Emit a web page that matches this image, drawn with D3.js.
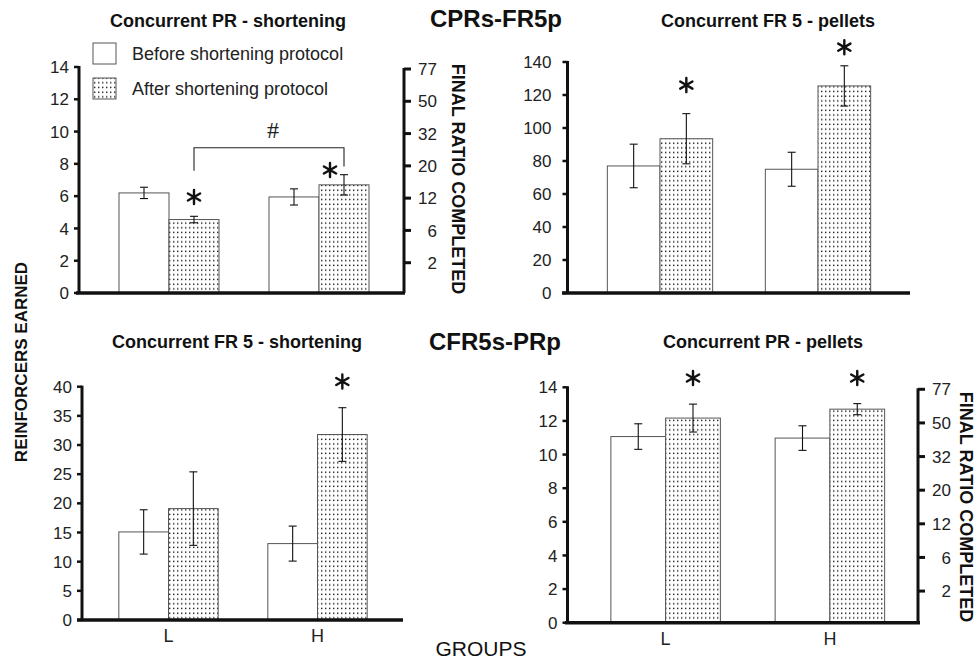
<!DOCTYPE html>
<html lang="en">
<head>
  <meta charset="UTF-8" />
  <title>CPRs-FR5p / CFR5s-PRp</title>
  <script src="https://d3js.org/d3.v7.min.js"></script>
  <style>
    body { margin: 0; background: #fff; }
    svg { display: block; font-family: "Liberation Sans", Arial, sans-serif; }
    .tick-label { font-size: 17px; fill: #222; }
    .panel-title { font-size: 18px; font-weight: bold; fill: #111; }
    .big-title { font-size: 24px; font-weight: bold; fill: #111; }
  </style>
</head>
<body>
  <svg width="978" height="659"></svg>
  <script>
    // groups and series
    const groups = ["L", "H"];
    const series = ["Before shortening protocol", "After shortening protocol"];

    // means / SEM, order: L before, L after, H before, H after
    const prShortMean = [6.2, 4.55, 5.95, 6.7];
    const prShortErr = [0.35, 0.2, 0.5, 0.63];
    const fr5PelletMean = [77, 93.5, 75, 125.5];
    const fr5PelletErr = [13.2, 15.2, 10.3, 12.2];
    const fr5ShortMean = [15.1, 19.1, 13.1, 31.8];
    const fr5ShortErr = [3.8, 6.3, 3.0, 4.6];
    const prPelletMean = [11.07, 12.17, 10.98, 12.7];
    const prPelletErr = [0.76, 0.83, 0.73, 0.33];

    // axis ticks
    const prTicks = [0, 2, 4, 6, 8, 10, 12, 14];
    const fr5PelletTicks = [0, 20, 40, 60, 80, 100, 120, 140];
    const fr5ShortTicks = [0, 5, 10, 15, 20, 25, 30, 35, 40];
    const ratioAt = [14, 12, 10, 8, 6, 4, 2];
    const ratioLabels = ["77", "50", "32", "20", "12", "6", "2"];

    // significance stars: [group, value where star sits]
    const prShortStars = [["L", 5.95], ["H", 7.62]];
    const fr5PelletStars = [["L", 126], ["H", 149]];
    const fr5ShortStars = [["H", 40.9]];
    const prPelletStars = [["L", 14.55], ["H", 14.55]];

    const svg = d3.select("svg");

    const pat = svg.append("defs").append("pattern")
      .attr("id", "dots")
      .attr("patternUnits", "userSpaceOnUse")
      .attr("width", 4).attr("height", 4.7);
    pat.append("rect").attr("width", 4).attr("height", 4.7).attr("fill", "#fff");
    pat.append("rect").attr("x", 1).attr("y", 1.5).attr("width", 1.4).attr("height", 1.4).attr("fill", "#1a1a1a");

    const panels = [
      { mean: prShortMean, err: prShortErr, ticks: prTicks, max: 14, stars: prShortStars,
        x0: 79, x1: 404, xs: 76, xe: 405, y0: 293, y1: 67, g0: 94, g1: 394, gap: 10, right: true,
        title: "Concurrent PR - shortening", tx: 228, ty: 27, rlx: 458, rly: 179 },
      { mean: fr5PelletMean, err: fr5PelletErr, ticks: fr5PelletTicks, max: 140, stars: fr5PelletStars,
        x0: 567.5, x1: 910, xs: 562, xe: 910, y0: 293, y1: 62, g0: 581, g1: 897, gap: 16, right: false,
        title: "Concurrent FR 5 - pellets", tx: 768, ty: 27 },
      { mean: fr5ShortMean, err: fr5ShortErr, ticks: fr5ShortTicks, max: 40, stars: fr5ShortStars,
        x0: 82, x1: 403, xs: 77, xe: 403, y0: 620, y1: 386.7, g0: 94, g1: 392, gap: 10, right: false,
        title: "Concurrent FR 5 - shortening", tx: 237, ty: 348, xlabels: true },
      { mean: prPelletMean, err: prPelletErr, ticks: prTicks, max: 14, stars: prPelletStars,
        x0: 567.5, x1: 918, xs: 565, xe: 920, y0: 622.7, y1: 387.3, g0: 583.5, g1: 912, gap: 10, right: true,
        title: "Concurrent PR - pellets", tx: 763, ty: 348, xlabels: true, rlx: 966.5, rly: 507 }
    ];

    const star = d3.symbol().type(d3.symbolAsterisk).size(140);

    panels.forEach((p, pi) => {
      const g = svg.append("g");
      const y = d3.scaleLinear().domain([0, p.max]).range([p.y0, p.y1]);
      const x = d3.scalePoint().domain(groups).range([p.g0, p.g1]).padding(0.5);
      const bw = x.step() / 3;
      const sub = d3.scaleBand().domain(series).range([-bw, bw]);

      const rows = [];
      groups.forEach((grp, gi) => series.forEach((s, si) => {
        rows.push({ grp, s, si, v: p.mean[gi * 2 + si], e: p.err[gi * 2 + si] });
      }));

      // bars
      g.selectAll("rect.bar").data(rows).join("rect")
        .attr("class", "bar")
        .attr("x", d => x(d.grp) + sub(d.s))
        .attr("y", d => y(d.v))
        .attr("width", sub.bandwidth())
        .attr("height", d => y(0) - y(d.v))
        .attr("fill", d => d.si === 0 ? "#fff" : "url(#dots)")
        .attr("stroke", "#555")
        .attr("stroke-width", 1);

      // error bars
      const eb = g.selectAll("g.err").data(rows).join("g").attr("class", "err")
        .attr("stroke", "#111").attr("stroke-width", 1.1);
      const cx = d => x(d.grp) + sub(d.s) + sub.bandwidth() / 2;
      eb.append("line").attr("x1", cx).attr("x2", cx)
        .attr("y1", d => y(d.v + d.e)).attr("y2", d => y(d.v - d.e));
      [1, -1].forEach(sgn => {
        eb.append("line").attr("x1", d => cx(d) - 4).attr("x2", d => cx(d) + 4)
          .attr("y1", d => y(d.v + sgn * d.e)).attr("y2", d => y(d.v + sgn * d.e));
      });

      // left axis
      g.append("line").attr("x1", p.x0).attr("x2", p.x0).attr("y1", y(p.max) - 1).attr("y2", y(0))
        .attr("stroke", "#111").attr("stroke-width", 3);
      g.selectAll("line.lt").data(p.ticks).join("line").attr("class", "lt")
        .attr("x1", p.x0 - 5).attr("x2", p.x0).attr("y1", d => y(d)).attr("y2", d => y(d))
        .attr("stroke", "#111").attr("stroke-width", 2.5);
      g.selectAll("text.ll").data(p.ticks).join("text").attr("class", "ll tick-label")
        .attr("x", p.x0 - p.gap).attr("y", d => y(d)).attr("dy", "0.36em")
        .attr("text-anchor", "end").text(d => d);

      // x axis
      g.append("line").attr("x1", p.xs).attr("x2", p.xe).attr("y1", y(0)).attr("y2", y(0))
        .attr("stroke", "#111").attr("stroke-width", 3.5);

      if (p.xlabels) {
        g.selectAll("text.xl").data(groups).join("text").attr("class", "xl tick-label")
          .attr("x", d => x(d)).attr("y", y(0) + 22).attr("text-anchor", "middle")
          .style("font-size", "18px").text(d => d);
      }

      // right axis (final ratio)
      if (p.right) {
        g.append("line").attr("x1", p.x1).attr("x2", p.x1).attr("y1", y(14) + 1).attr("y2", y(0))
          .attr("stroke", "#111").attr("stroke-width", 3);
        g.selectAll("line.rt").data(ratioAt).join("line").attr("class", "rt")
          .attr("x1", p.x1).attr("x2", p.x1 + 7).attr("y1", d => y(d) + 2).attr("y2", d => y(d) + 2)
          .attr("stroke", "#111").attr("stroke-width", 3);
        g.selectAll("text.rl").data(ratioAt).join("text").attr("class", "rl tick-label")
          .attr("x", p.x1 + 33).attr("y", d => y(d) + 2).attr("dy", "0.36em")
          .attr("text-anchor", "end").text((d, i) => ratioLabels[i]);
        g.append("text")
          .attr("transform", `translate(${p.rlx},${p.rly}) rotate(90)`)
          .attr("text-anchor", "middle").attr("dy", "0.35em")
          .style("font-size", "18px").style("font-weight", "bold").attr("fill", "#111")
          .text("FINAL RATIO COMPLETED");
      }

      // stars
      g.selectAll("path.star").data(p.stars).join("path").attr("class", "star")
        .attr("d", star)
        .attr("transform", (d, i) => {
          const dx = (pi === 0 && d[0] === "H") ? -14 : 0;
          return `translate(${x(d[0]) + bw / 2 + dx},${y(d[1])})`;
        })
        .attr("fill", "none").attr("stroke", "#111").attr("stroke-width", 2.4)
        .attr("stroke-linecap", "round");

      g.append("text").attr("class", "panel-title")
        .attr("x", p.tx).attr("y", p.ty).attr("text-anchor", "middle").text(p.title);

      p.y = y; p.x = x; p.bw = bw;
    });

    // bracket between L-after and H-after on the PR shortening panel
    const bracket = { y: 9.0, leftEnd: 7.58, rightEnd: 7.83, labelAt: 10.1 };
    const p0 = panels[0];
    const bl = p0.x("L") + p0.bw / 2, br = p0.x("H") + p0.bw / 2;
    svg.append("path")
      .attr("d", `M${bl},${p0.y(bracket.leftEnd)}V${p0.y(bracket.y)}H${br}V${p0.y(bracket.rightEnd)}`)
      .attr("fill", "none").attr("stroke", "#222").attr("stroke-width", 1.1);
    svg.append("text")
      .attr("x", (bl + br) / 2 + 4).attr("y", p0.y(bracket.labelAt)).attr("dy", "0.35em")
      .attr("text-anchor", "middle")
      .style("font-family", "'Liberation Serif', 'Times New Roman', serif").style("font-size", "24px")
      .attr("fill", "#222").text("#");

    // legend
    const leg = svg.append("g").attr("transform", "translate(93,43)");
    series.forEach((s, i) => {
      leg.append("rect").attr("x", 0).attr("y", i * 35).attr("width", 23).attr("height", 21)
        .attr("fill", i === 0 ? "#fff" : "url(#dots)").attr("stroke", "#555");
      leg.append("text").attr("x", 39).attr("y", i * 35 + 10.5).attr("dy", "0.36em")
        .style("font-size", "18px").attr("fill", "#222").text(s);
    });

    // shared labels
    svg.append("text").attr("class", "big-title").attr("x", 496).attr("y", 27)
      .attr("text-anchor", "middle").text("CPRs-FR5p");
    svg.append("text").attr("class", "big-title").attr("x", 495).attr("y", 350)
      .attr("text-anchor", "middle").text("CFR5s-PRp");
    svg.append("text").attr("transform", "translate(21,362) rotate(-90)")
      .attr("text-anchor", "middle").attr("dy", "0.35em")
      .style("font-size", "17px").style("font-weight", "bold").attr("fill", "#111")
      .text("REINFORCERS EARNED");
    svg.append("text").attr("x", 481).attr("y", 656).attr("text-anchor", "middle")
      .style("font-size", "21px").attr("fill", "#111").text("GROUPS");
  </script>
</body>
</html>
